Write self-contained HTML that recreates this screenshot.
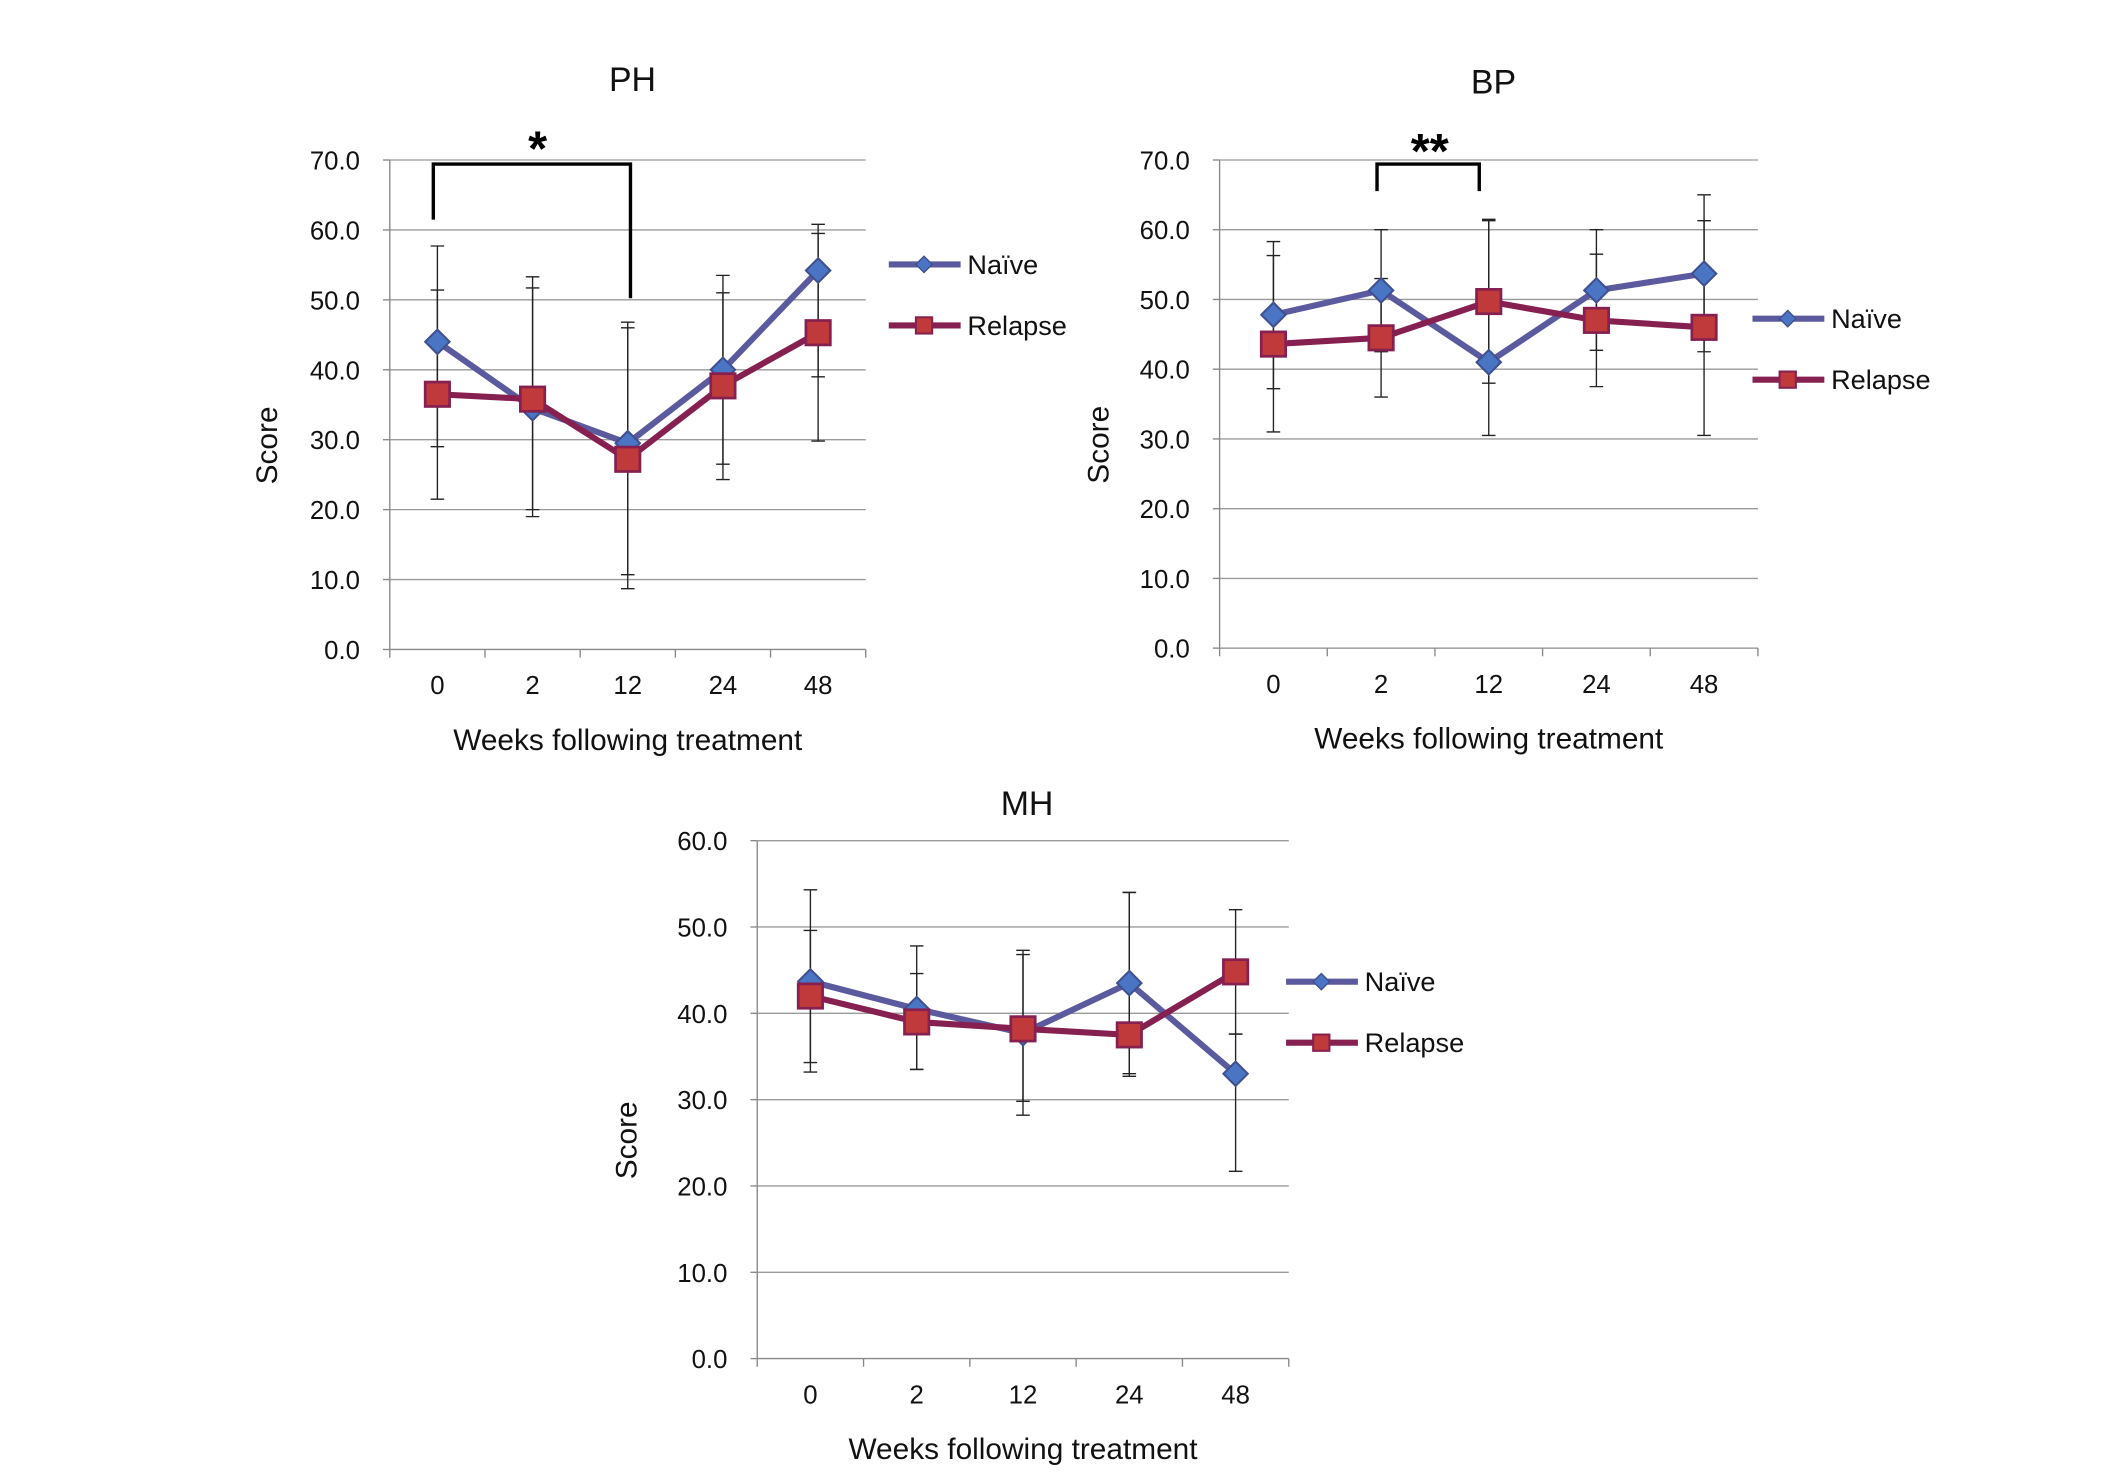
<!DOCTYPE html>
<html><head><meta charset="utf-8"><style>
html,body{margin:0;padding:0;background:#fff}
svg{display:block;font-family:"Liberation Sans",sans-serif}
</style></head><body>
<svg id="fig" width="2126" height="1482" viewBox="0 0 1567 1093" xmlns="http://www.w3.org/2000/svg"></svg>
<script>
const categories = ["0","2","12","24","48"];
const phNaive = [44, 34.5, 29.5, 40, 54.2];
const phNaiveUp = [57.7, 51.7, 46, 53.5, 60.8];
const phNaiveLo = [29, 19, 10.7, 26.5, 39];
const phRelapse = [36.5, 35.8, 27.2, 37.7, 45.3];
const phRelapseUp = [51.4, 53.3, 46.8, 51, 59.5];
const phRelapseLo = [21.5, 20, 8.7, 24.3, 29.8];
const bpNaive = [47.8, 51.3, 41, 51.3, 53.7];
const bpNaiveUp = [58.3, 60, 61.3, 60, 65];
const bpNaiveLo = [37.2, 42.5, 30.5, 42.7, 42.5];
const bpRelapse = [43.6, 44.5, 49.7, 47, 46];
const bpRelapseUp = [56.3, 53, 61.5, 56.5, 61.3];
const bpRelapseLo = [31, 36, 38, 37.5, 30.5];
const mhNaive = [43.7, 40.5, 37.7, 43.5, 33];
const mhNaiveUp = [54.3, 47.8, 47.3, 54, 37.6];
const mhNaiveLo = [33.2, 33.5, 28.2, 33, 21.7];
const mhRelapse = [42, 39, 38.2, 37.5, 44.8];
const mhRelapseUp = [49.6, 44.6, 46.8, 54, 52];
const mhRelapseLo = [34.3, 33.5, 29.8, 32.7, 37.6];
const phTicks = ["0.0","10.0","20.0","30.0","40.0","50.0","60.0","70.0"];
const mhTicks = ["0.0","10.0","20.0","30.0","40.0","50.0","60.0"];

const NS="http://www.w3.org/2000/svg";
const svg=document.getElementById('fig');
function mk(tag,attrs,parent){const e=document.createElementNS(NS,tag);for(const k in attrs)e.setAttribute(k,attrs[k]);(parent||svg).appendChild(e);return e;}

function chart(cfg){
  const g=mk('g',{});
  
  
  const {x0,x1,yTop,yBot,ymax,ticks}=cfg;
  const ys=v=>yBot-(v/ymax)*(yBot-yTop);
  const n=categories.length, bw=(x1-x0)/n;
  const xs=i=>x0+bw*(i+0.5);
  ticks.forEach((t,i)=>{
    const v=parseFloat(t), y=ys(v);
    if(v>0){const l=mk('line',{x1:x0,x2:x1,y1:y,y2:y,stroke:'#9a9a9a','stroke-width':1},g);
      
      }
    const tx=mk('text',{x:x0-22,y:y+7,'text-anchor':'end','font-size':19,fill:'#111'},g);
    tx.textContent=t;
    
    
    mk('line',{x1:x0-5,x2:x0,y1:y,y2:y,stroke:'#888'},g);
  });
  mk('line',{x1:x0,x2:x0,y1:yTop,y2:yBot,stroke:'#888'},g);
  mk('line',{x1:x0,x2:x1,y1:yBot,y2:yBot,stroke:'#888'},g);
  for(let i=0;i<=n;i++) mk('line',{x1:x0+bw*i,x2:x0+bw*i,y1:yBot,y2:yBot+6,stroke:'#888'},g);
  categories.forEach((c,i)=>{
    const t=mk('text',{x:xs(i),y:yBot+33,'text-anchor':'middle','font-size':19,fill:'#111'},g);
    t.textContent=c;
    
    
  });
  const tt=mk('text',{x:cfg.titleX,y:cfg.titleY,'text-anchor':'middle','font-size':25,fill:'#111'},g);
  tt.textContent=cfg.name;
  
  
  const xt=mk('text',{x:(x0+x1)/2,y:yBot+74,'text-anchor':'middle','font-size':22,fill:'#111'},g);
  xt.textContent='Weeks following treatment';
  
  
  const sx=cfg.scoreX, sy=(yTop+yBot)/2+30;
  const st=mk('text',{x:sx,y:sy,'text-anchor':'middle','font-size':22,fill:'#111',transform:`rotate(-90 ${sx} ${sy})`},g);
  st.textContent='Score';
  
  
  [[cfg.nUp,cfg.nLo],[cfg.rUp,cfg.rLo]].forEach(([up,lo])=>{
    up.forEach((u,i)=>{
      const x=xs(i);
      const e=mk('path',{d:`M${x},${ys(u)}V${ys(lo[i])}M${x-5},${ys(u)}h10M${x-5},${ys(lo[i])}h10`,stroke:'#222','stroke-width':1,fill:'none'},g);
      
      
    });
  });
  const nl=mk('polyline',{points:cfg.naive.map((v,i)=>xs(i)+','+ys(v)).join(' '),fill:'none',stroke:'#5b5a9e','stroke-width':4.5},g);
  
  
  const rl=mk('polyline',{points:cfg.relapse.map((v,i)=>xs(i)+','+ys(v)).join(' '),fill:'none',stroke:'#862050','stroke-width':4.5},g);
  
  
  cfg.naive.forEach((v,i)=>{
    const x=xs(i),y=ys(v);
    const d=mk('path',{d:`M${x},${y-9}L${x+9},${y}L${x},${y+9}L${x-9},${y}Z`,fill:'#4a74c4',stroke:'#3f4f8f','stroke-width':1.5},g);
    
    
  });
  cfg.relapse.forEach((v,i)=>{
    const x=xs(i),y=ys(v);
    const r=mk('rect',{x:x-9,y:y-9,width:18,height:18,fill:'#c0393b',stroke:'#862050','stroke-width':2},g);
    
    
  });
  const lx=cfg.legX, ly=cfg.legY;
  [['Naïve','#5b5a9e',0],['Relapse','#862050',45]].forEach(([lab,col,dy],k)=>{
    const lg=mk('g',{},g);
    
    
    mk('line',{x1:lx,x2:lx+53,y1:ly+dy,y2:ly+dy,stroke:col,'stroke-width':4.5},lg);
    const cx=lx+26;
    if(k==0) mk('path',{d:`M${cx},${ly-6}L${cx+6},${ly}L${cx},${ly+6}L${cx-6},${ly}Z`,fill:'#4a74c4',stroke:'#3f4f8f'},lg);
    else mk('rect',{x:cx-6,y:ly+dy-6,width:12,height:12,fill:'#c0393b',stroke:'#862050','stroke-width':1.5},lg);
    const t=mk('text',{x:lx+58,y:ly+dy+7,'font-size':20,fill:'#111'},lg);
    t.textContent=lab;
  });
  return {g,xs,ys};
}

const ph=chart({name:'PH',x0:287,x1:638,yTop:118,yBot:479,ymax:70,ticks:phTicks,titleX:466,titleY:67,scoreX:204,
  naive:phNaive,nUp:phNaiveUp,nLo:phNaiveLo,relapse:phRelapse,rUp:phRelapseUp,rLo:phRelapseLo,legX:655,legY:195});
const bp=chart({name:'BP',x0:899,x1:1296,yTop:118,yBot:478,ymax:70,ticks:phTicks,titleX:1101,titleY:69,scoreX:817,
  naive:bpNaive,nUp:bpNaiveUp,nLo:bpNaiveLo,relapse:bpRelapse,rUp:bpRelapseUp,rLo:bpRelapseLo,legX:1292,legY:235});
const mh=chart({name:'MH',x0:558,x1:950,yTop:620,yBot:1002,ymax:60,ticks:mhTicks,titleX:757,titleY:601,scoreX:469,
  naive:mhNaive,nUp:mhNaiveUp,nLo:mhNaiveLo,relapse:mhRelapse,rUp:mhRelapseUp,rLo:mhRelapseLo,legX:948,legY:724});

const b1=mk('path',{d:`M${ph.xs(0)-3},162V121H${ph.xs(2)+2}V220`,stroke:'#000','stroke-width':2.5,fill:'none'});


const s1=mk('text',{x:396,y:122,'text-anchor':'middle','font-size':36,'font-weight':'bold'});
s1.textContent='*';


const b2=mk('path',{d:`M${bp.xs(1)-3},141V121H${bp.xs(2)-7}V141`,stroke:'#000','stroke-width':2.5,fill:'none'});


const s2=mk('text',{x:1054,y:124,'text-anchor':'middle','font-size':36,'font-weight':'bold'});
s2.textContent='**';


</script>
</body></html>
